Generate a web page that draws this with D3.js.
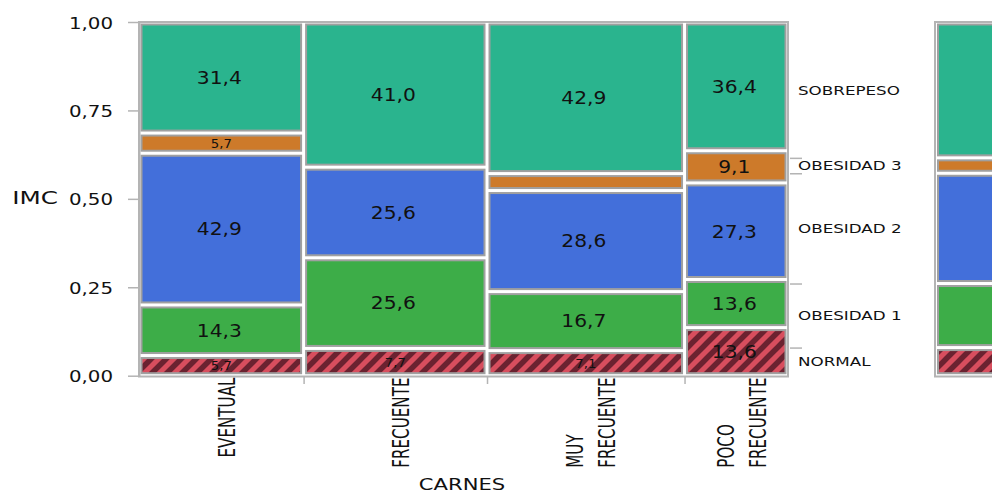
<!DOCTYPE html>
<html>
<head>
<meta charset="utf-8">
<script src="https://cdn.jsdelivr.net/npm/d3@7"></script>
<style>
  html, body { margin: 0; padding: 0; background: #ffffff; }
  svg { display: block; font-family: "DejaVu Sans", Verdana, sans-serif; }
</style>
</head>
<body>
<svg id="chart" width="992" height="494"></svg>
<script>
// ---- data ----
const categories = ["EVENTUAL", "FRECUENTE", "MUY FRECUENTE", "POCO FRECUENTE"];
const categoryLabelLines = [["EVENTUAL"], ["FRECUENTE"], ["MUY", "FRECUENTE"], ["POCO", "FRECUENTE"]];
const columnN = [35, 39, 42, 22];            // column widths (group sizes)
const levels = ["NORMAL", "OBESIDAD 1", "OBESIDAD 2", "OBESIDAD 3", "SOBREPESO"];
const pctNormal    = [5.7, 7.7, 7.1, 13.6];
const pctObesidad1 = [14.3, 25.6, 16.7, 13.6];
const pctObesidad2 = [42.9, 25.6, 28.6, 27.3];
const pctObesidad3 = [5.7, 0.0, 4.8, 9.1];
const pctSobrepeso = [31.4, 41.0, 42.9, 36.4];
const yTickValues = [0, 0.25, 0.5, 0.75, 1];
const xTitle = "CARNES";
const yTitle = "IMC";

const levelPct = [pctNormal, pctObesidad1, pctObesidad2, pctObesidad3, pctSobrepeso];
const levelColor = ["url(#hatch)", "#3DAD48", "#436FDA", "#CD7A2A", "#2AB48E"];

const svg = d3.select("#chart");
const defs = svg.append("defs");
const pat = defs.append("pattern").attr("id", "hatch")
  .attr("patternUnits", "userSpaceOnUse").attr("width", 15).attr("height", 15);
pat.append("rect").attr("width", 15).attr("height", 15).attr("fill", "#D84E5E");
pat.append("path")
  .attr("d", "M-4,4 L4,-4 M0,15 L15,0 M11,19 L19,11")
  .attr("stroke", "#6B2230").attr("stroke-width", 5.5);

const fmt = d => d3.format(".1f")(d).replace(".", ",");
const total = d3.sum(columnN);
const xScale = d3.scaleLinear().domain([0, total]).range([139, 788]);
const yScale = d3.scaleLinear().domain([0, 1]).range([375.7, 22]);

const inset = 2.5;
const borderCol = "#A0A0A0";
const frameCol = "#B4B4B4";

// text helper: horizontal scale to mimic the wide original face
function addText(parent, x, y, str, size, sx, anchor, rot) {
  return parent.append("text")
    .attr("transform", `translate(${x},${y})` + (rot ? ` rotate(${rot})` : "") + ` scale(${sx},1)`)
    .attr("font-size", size)
    .attr("text-anchor", anchor)
    .attr("fill", "#111")
    .text(str);
}

// ---- frame ----
svg.append("rect").attr("x", 139).attr("y", 22)
  .attr("width", 788 - 139).attr("height", 376.5 - 22)
  .attr("fill", "none").attr("stroke", frameCol).attr("stroke-width", 2);

// ---- cells ----
const cellsG = svg.append("g");
let cum = 0;
categories.forEach((cat, ci) => {
  const x0 = xScale(cum), x1 = xScale(cum + columnN[ci]);
  cum += columnN[ci];
  const colVals = levelPct.map(a => a[ci]);
  const s = d3.sum(colVals);
  let acc = 0;
  colVals.forEach((v, li) => {
    const p = v / s;
    const yb = yScale(acc), yt = yScale(acc + p);
    acc += p;
    if (v <= 0) return;
    cellsG.append("rect")
      .attr("x", x0 + inset).attr("y", yt + inset)
      .attr("width", x1 - x0 - 2 * inset).attr("height", Math.max(0, yb - yt - 2 * inset))
      .attr("fill", levelColor[li])
      .attr("stroke", borderCol).attr("stroke-width", 2);
    const h = yb - yt;
    const cx = (x0 + x1) / 2, cy = (yb + yt) / 2;
    if (h >= 30) {
      addText(cellsG, cx - 2, cy + 6.3, fmt(v), 17, 1.19, "middle");
    } else if (h >= 18) {
      addText(cellsG, cx, cy + 4.5, fmt(v), 12.3, 1.08, "middle");
    }
  });
});

// ---- marginal proportions ----
const marg = levelPct.map(a => d3.sum(a.map((v, i) => v * columnN[i])) / total / 100);
const margSum = d3.sum(marg);
const margNorm = marg.map(v => v / margSum);
const margBounds = [];
{ let a = 0; margNorm.forEach(v => { margBounds.push([a, a + v]); a += v; }); }

// ---- right-hand marginal panel (partially visible) ----
const rp = svg.append("g");
rp.append("path").attr("d", "M1200,22 H935 V376.5 H1200")
  .attr("fill", "none").attr("stroke", frameCol).attr("stroke-width", 2);
margBounds.forEach(([a, b], li) => {
  const yb = yScale(a), yt = yScale(b);
  rp.append("rect")
    .attr("x", 935 + inset + 0.5).attr("y", yt + inset)
    .attr("width", 300).attr("height", yb - yt - 2 * inset)
    .attr("fill", levelColor[li]).attr("stroke", borderCol).attr("stroke-width", 2);
});

// ---- y axis ----
const yAxis = d3.axisLeft(yScale).tickValues(yTickValues).tickSize(11).tickSizeOuter(0)
  .tickFormat(d => d3.format(".2f")(d).replace(".", ","));
const yg = svg.append("g").attr("transform", "translate(139,0)").call(yAxis);
yg.select(".domain").attr("stroke", frameCol).attr("stroke-width", 2);
yg.selectAll(".tick line").attr("stroke", frameCol).attr("stroke-width", 1.5);
yg.selectAll(".tick text")
  .attr("font-family", "DejaVu Sans, sans-serif").attr("font-size", 16.5)
  .attr("fill", "#111").attr("dy", null).attr("y", 6)
  .attr("x", -26 / 1.2).attr("transform", "scale(1.2,1)");

addText(svg, 35, 204, yTitle, 17, 1.45, "middle");

// ---- x axis ticks at column boundaries ----
const bounds = d3.cumsum(columnN).slice(0, -1);
const xAxis = d3.axisBottom(xScale).tickValues(Array.from(bounds)).tickSize(7).tickSizeOuter(0).tickFormat("");
const xg = svg.append("g").attr("transform", "translate(0,377)").call(xAxis);
xg.select(".domain").remove();
xg.selectAll(".tick line").attr("stroke", frameCol).attr("stroke-width", 1.5);

// ---- category labels (rotated, multi-line) ----
const labSize = 23.5, labSx = 0.645, lineGap = 32;
let c2 = 0;
categories.forEach((cat, ci) => {
  const x0 = xScale(c2), x1 = xScale(c2 + columnN[ci]);
  c2 += columnN[ci];
  const lines = categoryLabelLines[ci];
  const n = lines.length;
  const cx = (x0 + x1) / 2 + 13.25;
  const tmp = lines.map(l => svg.append("text").attr("font-size", labSize).text(l));
  const maxLen = d3.max(tmp, t => t.node().getComputedTextLength()) * labSx;
  tmp.forEach(t => t.remove());
  const startY = 377.5 + maxLen;
  lines.forEach((l, i) => {
    const bx = cx + (i - (n - 1) / 2) * lineGap;
    addText(svg, bx, startY, l, labSize, labSx, "start", -90);
  });
});

addText(svg, 462, 490, xTitle, 16.5, 1.28, "middle");

// ---- right-side level labels and ticks ----
const innerBounds = margBounds.slice(0, -1).map(d => d[1]);
const rAxis = d3.axisRight(yScale).tickValues(innerBounds).tickSize(12).tickSizeOuter(0).tickFormat("");
const rg = svg.append("g").attr("transform", "translate(790,0)").call(rAxis);
rg.select(".domain").remove();
rg.selectAll(".tick line").attr("stroke", frameCol).attr("stroke-width", 1.5);

levels.forEach((lv, li) => {
  const [a, b] = margBounds[li];
  const my = yScale((a + b) / 2);
  addText(svg, 798, my + 4.8, lv, 12.4, 1.35, "start");
});
</script>
</body>
</html>
